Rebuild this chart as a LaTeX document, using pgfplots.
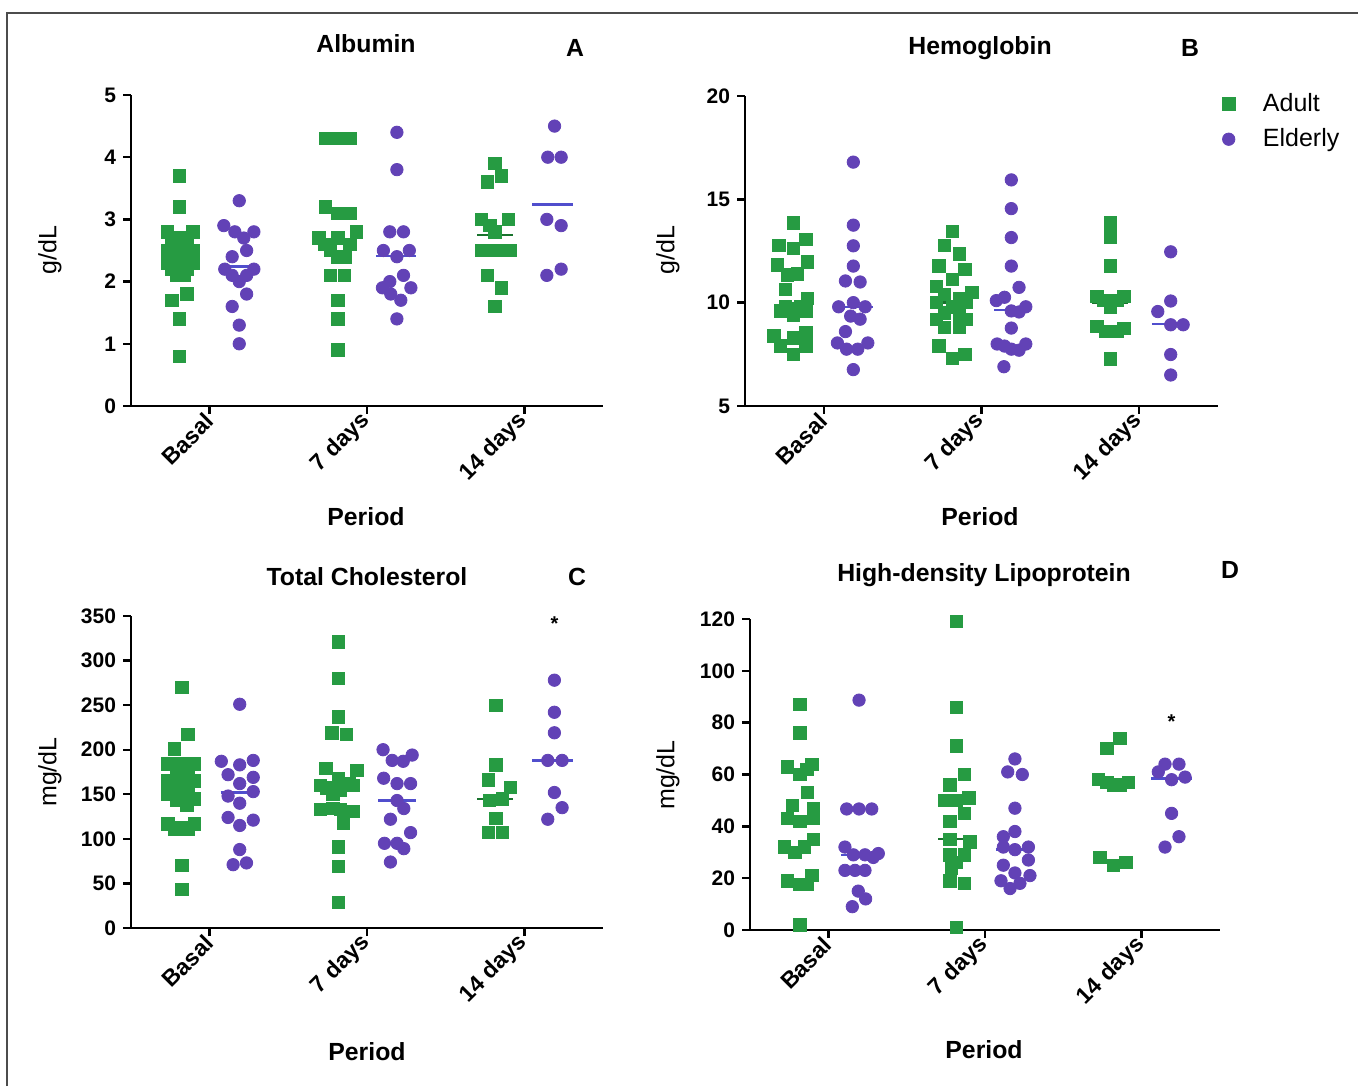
\documentclass[border=0pt]{standalone}
\usepackage{pgfplots}
\pgfplotsset{compat=1.18}
\usepackage{fontspec}
\setmainfont{Liberation Sans}

\definecolor{adult}{RGB}{38,155,66}
\definecolor{elder}{RGB}{98,66,182}
\definecolor{adultln}{RGB}{25,115,45}
\definecolor{elderln}{RGB}{80,78,205}

\pgfplotsset{
  panel/.style={
    scale only axis, clip=false,
    axis x line*=bottom, axis y line*=left,
    axis line style={line width=1.2pt,-},
    tick style={line width=1.2pt,black},
    major tick length=4pt, tick align=outside,
    xmin=0.5, xmax=3.5,
    xtick={1,2,3}, xticklabels={Basal,7 days,14 days},
    xticklabel style={rotate=45,anchor=east,xshift=2pt,yshift=-1pt,
      font=\bfseries\fontsize{11.5}{13}\selectfont},
    yticklabel style={font=\bfseries\fontsize{10.5}{12}\selectfont},
    /pgf/number format/assume math mode=true,
  },
  ad/.style={only marks,mark=square*,mark size=3.1pt,color=adult},
  el/.style={only marks,mark=*,mark size=3.1pt,color=elder},
  adm/.style={adultln,line width=1.2pt,forget plot},
  elm/.style={elderln,line width=1.2pt,forget plot},
}

\newcommand{\ttl}{\bfseries\fontsize{12.4}{14}\selectfont}
\newcommand{\ylab}{\fontsize{12.5}{14}\selectfont}

\begin{document}
\begin{tikzpicture}
\useasboundingbox (0,0) rectangle (679pt,543pt);
\draw[gray!60!black,line width=0.8pt] (3.5pt,0) -- (3.5pt,536.5pt) -- (679pt,536.5pt);

% ---------- A: Albumin
\begin{axis}[panel, at={(65.5pt,340pt)}, anchor=south west,
  width=236pt, height=155.5pt, ymin=0, ymax=5, ytick={0,1,2,3,4,5}]
\addplot[ad] coordinates {
 (0.808,3.7)(0.808,3.2)(0.733,2.8)(0.893,2.8)(0.808,2.7)(0.761,2.6)(0.855,2.6)
 (0.733,2.5)(0.808,2.5)(0.893,2.5)(0.733,2.3)(0.808,2.3)(0.893,2.3)(0.761,2.2)
 (0.855,2.2)(0.787,2.1)(0.840,2.1)(0.855,1.8)(0.761,1.7)(0.808,1.4)(0.808,0.8)
 (1.736,4.3)(1.815,4.3)(1.891,4.3)(1.736,3.2)(1.815,3.1)(1.891,3.1)(1.934,2.8)
 (1.693,2.7)(1.815,2.7)(1.729,2.6)(1.891,2.6)(1.768,2.5)(1.815,2.4)(1.864,2.4)
 (1.768,2.1)(1.857,2.1)(1.815,1.7)(1.815,1.4)(1.815,0.9)
 (2.812,3.9)(2.855,3.7)(2.765,3.6)(2.727,3.0)(2.898,3.0)(2.780,2.9)(2.812,2.8)
 (2.727,2.5)(2.780,2.5)(2.844,2.5)(2.908,2.5)(2.765,2.1)(2.855,1.9)(2.812,1.6)};
\addplot[el] coordinates {
 (1.188,3.3)(1.090,2.9)(1.160,2.8)(1.281,2.8)(1.217,2.7)(1.235,2.5)(1.143,2.4)
 (1.096,2.2)(1.281,2.2)(1.143,2.1)(1.235,2.1)(1.188,2.0)(1.235,1.8)(1.143,1.6)
 (1.188,1.3)(1.188,1.0)
 (2.190,4.4)(2.190,3.8)(2.145,2.8)(2.232,2.8)(2.104,2.5)(2.269,2.5)(2.190,2.4)
 (2.232,2.1)(2.145,2.0)(2.098,1.9)(2.279,1.9)(2.151,1.8)(2.215,1.7)(2.190,1.4)
 (3.192,4.5)(3.149,4.0)(3.234,4.0)(3.143,3.0)(3.234,2.9)(3.234,2.2)(3.143,2.1)};
\addplot[adm] coordinates {(0.70,2.33)(0.93,2.33)};
\addplot[adm] coordinates {(1.70,2.6)(1.93,2.6)};
\addplot[adm] coordinates {(2.70,2.75)(2.93,2.75)};
\addplot[elm] coordinates {(1.07,2.24)(1.31,2.24)};
\addplot[elm] coordinates {(2.06,2.41)(2.31,2.41)};
\addplot[elm] coordinates {(3.05,3.24)(3.31,3.24)};
\end{axis}

% ---------- B: Hemoglobin
\begin{axis}[panel, at={(372.5pt,340pt)}, anchor=south west,
  width=236.5pt, height=155pt, ymin=5, ymax=20, ytick={5,10,15,20},
  legend style={at={(0.996,1.035)},anchor=north west,draw=none,fill=none,
    font=\fontsize{12.5}{14}\selectfont,row sep=3pt},
  legend cell align=left]
\addplot[ad] coordinates {
 (0.807,13.86)(0.886,13.05)(0.715,12.78)(0.807,12.62)(0.897,11.98)(0.704,11.82)
 (0.833,11.4)(0.768,11.35)(0.758,10.65)(0.897,10.2)(0.758,9.8)(0.807,9.7)
 (0.854,9.8)(0.725,9.6)(0.886,9.6)(0.807,9.4)(0.682,8.4)(0.886,8.55)(0.807,8.3)
 (0.725,7.9)(0.886,7.9)(0.807,7.5)
 (1.815,13.45)(1.766,12.78)(1.858,12.35)(1.730,11.77)(1.895,11.6)(1.815,11.13)
 (1.712,10.78)(1.938,10.5)(1.766,10.4)(1.858,10.2)(1.712,10.0)(1.901,10.0)
 (1.815,9.8)(1.766,9.5)(1.858,9.35)(1.712,9.2)(1.906,9.2)(1.766,8.8)(1.858,8.8)
 (1.730,7.9)(1.895,7.5)(1.815,7.3)
 (2.818,13.86)(2.818,13.18)(2.818,11.77)(2.732,10.3)(2.903,10.3)(2.775,10.1)
 (2.861,10.1)(2.818,9.8)(2.732,8.85)(2.903,8.75)(2.785,8.6)(2.861,8.6)(2.818,7.28)};
\addplot[el] coordinates {
 (1.187,16.8)(1.187,13.75)(1.187,12.75)(1.187,11.77)(1.137,11.05)(1.230,11.0)
 (1.187,10.0)(1.094,9.8)(1.262,9.8)(1.170,9.35)(1.230,9.2)(1.137,8.6)(1.086,8.05)
 (1.279,8.05)(1.144,7.75)(1.215,7.75)(1.187,6.76)
 (2.189,15.94)(2.189,14.55)(2.189,13.15)(2.189,11.77)(2.238,10.74)(2.146,10.26)
 (2.094,10.1)(2.281,9.8)(2.189,9.6)(2.238,9.55)(2.189,8.77)(2.099,8.0)(2.281,8.0)
 (2.146,7.9)(2.189,7.75)(2.238,7.7)(2.142,6.9)
 (3.200,12.46)(3.200,10.08)(3.118,9.57)(3.200,8.93)(3.279,8.93)(3.200,7.49)(3.200,6.5)};
\legend{\hspace*{12pt}Adult,\hspace*{12pt}Elderly}
\addplot[adm] coordinates {(0.70,9.7)(0.93,9.7)};
\addplot[adm] coordinates {(1.70,10.0)(1.93,10.0)};
\addplot[adm] coordinates {(2.70,10.0)(2.93,10.0)};
\addplot[elm] coordinates {(1.07,9.78)(1.31,9.78)};
\addplot[elm] coordinates {(2.08,9.65)(2.30,9.65)};
\addplot[elm] coordinates {(3.08,8.96)(3.25,8.96)};
\end{axis}

% ---------- C: Total Cholesterol
\begin{axis}[panel, at={(65.5pt,79pt)}, anchor=south west,
  width=236pt, height=156pt, ymin=0, ymax=350, ytick={0,50,...,350}]
\addplot[ad] coordinates {
 (0.823,270)(0.862,217)(0.777,201)(0.734,184)(0.819,184)(0.904,184)(0.787,177)
 (0.862,177)(0.734,165)(0.819,165)(0.904,165)(0.777,157)(0.862,157)(0.734,150)
 (0.819,152)(0.904,145)(0.787,143)(0.855,138)(0.734,117)(0.819,113)(0.904,117)
 (0.777,111)(0.862,111)(0.823,70)(0.823,43)
 (1.819,321)(1.819,280)(1.819,237)(1.777,219)(1.868,217)(1.740,179)(1.936,177)
 (1.819,168)(1.702,160)(1.885,162)(1.745,157)(1.830,155)(1.915,160)(1.783,150)
 (1.702,133)(1.783,134)(1.830,133)(1.915,131)(1.851,118)(1.819,91)(1.819,69)(1.819,29)
 (2.819,250)(2.819,183)(2.772,166)(2.911,158)(2.777,143)(2.862,145)(2.819,123)
 (2.772,107)(2.862,107)};
\addplot[el] coordinates {
 (1.191,251)(1.074,187)(1.191,183)(1.277,188)(1.117,172)(1.277,169)(1.191,162)
 (1.117,148)(1.277,153)(1.191,140)(1.117,124)(1.277,121)(1.191,115)(1.191,88)
 (1.149,71)(1.234,73)
 (2.102,200)(2.287,194)(2.160,188)(2.230,187)(2.106,168)(2.191,162)(2.277,162)
 (2.191,143)(2.234,134)(2.149,122)(2.277,107)(2.111,95)(2.191,95)(2.234,89)(2.149,74)
 (3.191,278)(3.191,242)(3.191,219)(3.149,188)(3.240,188)(3.191,152)(3.240,135)(3.149,122)};
\addplot[adm] coordinates {(0.71,149)(0.93,149)};
\addplot[adm] coordinates {(1.70,155)(1.93,155)};
\addplot[adm] coordinates {(2.70,145)(2.93,145)};
\addplot[elm] coordinates {(1.07,152)(1.31,152)};
\addplot[elm] coordinates {(2.07,143)(2.31,143)};
\addplot[elm] coordinates {(3.05,188)(3.31,188)};
\node[font=\bfseries\fontsize{10}{11}\selectfont] at (axis cs:3.191,341) {*};
\end{axis}

% ---------- D: High-density Lipoprotein
\begin{axis}[panel, at={(375pt,78pt)}, anchor=south west,
  width=235pt, height=155.5pt, ymin=0, ymax=120, ytick={0,20,...,120}]
\addplot[ad] coordinates {
 (0.819,87)(0.819,76)(0.894,64)(0.740,63)(0.862,62)(0.819,60)(0.868,53)(0.772,48)
 (0.904,47)(0.740,43)(0.904,43)(0.819,42)(0.904,35)(0.719,32)(0.847,32)(0.787,30)
 (0.740,19)(0.894,21)(0.819,17.5)(0.862,17.5)(0.819,2)
 (1.819,119)(1.819,86)(1.819,71)(1.868,60)(1.777,56)(1.740,50)(1.819,50)(1.898,51)
 (1.868,45)(1.777,42)(1.777,35)(1.904,34)(1.777,29)(1.868,29)(1.819,26)(1.787,24)
 (1.777,19)(1.868,18)(1.819,1)
 (2.862,74)(2.777,70)(2.723,58)(2.777,57)(2.819,56)(2.862,56)(2.915,57)(2.734,28)
 (2.898,26)(2.819,25)};
\addplot[el] coordinates {
 (1.196,88.7)(1.117,46.7)(1.196,46.7)(1.277,46.7)(1.106,32)(1.160,29)(1.234,29)
 (1.319,29.5)(1.287,28)(1.106,23)(1.170,23)(1.234,23)(1.191,15)(1.238,12)(1.153,9)
 (2.191,66)(2.145,61)(2.238,60)(2.191,47)(2.191,38)(2.117,36)(2.117,32)(2.191,31)
 (2.277,32)(2.277,27)(2.117,25)(2.191,22)(2.287,21)(2.102,19)(2.223,18)(2.160,16)
 (3.149,64)(3.238,64)(3.106,61)(3.277,59)(3.191,58)(3.191,45)(3.238,36)(3.149,32)};
\addplot[adm] coordinates {(0.70,42.7)(0.93,42.7)};
\addplot[adm] coordinates {(1.70,35)(1.93,35)};
\addplot[adm] coordinates {(2.70,56)(2.93,56)};
\addplot[elm] coordinates {(1.08,29)(1.32,29)};
\addplot[elm] coordinates {(2.07,31)(2.31,31)};
\addplot[elm] coordinates {(3.06,58.5)(3.32,58.5)};
\node[font=\bfseries\fontsize{10}{11}\selectfont] at (axis cs:3.191,80.5) {*};
\end{axis}

% ---------- titles, panel letters, axis labels
\node[font=\ttl] at (183pt,521pt) {Albumin};
\node[font=\ttl] at (287.5pt,519pt) {A};
\node[font=\ttl] at (490pt,519pt) {Hemoglobin};
\node[font=\ttl] at (595pt,519pt) {B};
\node[font=\ttl] at (183.5pt,254.5pt) {Total Cholesterol};
\node[font=\ttl] at (288.5pt,254.5pt) {C};
\node[font=\ttl] at (492pt,255.5pt) {High-density Lipoprotein};
\node[font=\ttl] at (615pt,258pt) {D};

\node[font=\ttl] at (183pt,284.5pt) {Period};
\node[font=\ttl] at (490pt,284.5pt) {Period};
\node[font=\ttl] at (183.5pt,17pt) {Period};
\node[font=\ttl] at (492pt,18pt) {Period};

\node[font=\ylab,rotate=90] at (25pt,418pt) {g/dL};
\node[font=\ylab,rotate=90] at (334pt,418pt) {g/dL};
\node[font=\ylab,rotate=90] at (25pt,157pt) {mg/dL};
\node[font=\ylab,rotate=90] at (334pt,155.5pt) {mg/dL};
\end{tikzpicture}
\end{document}
